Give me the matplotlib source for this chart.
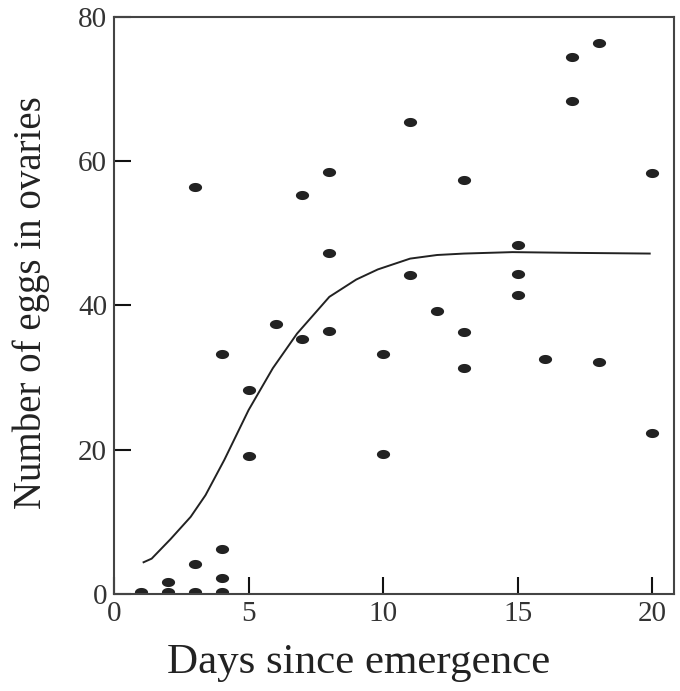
import numpy as np
import matplotlib.pyplot as plt
from matplotlib.path import Path

# observed egg counts (day, eggs)
days = [1, 2, 3, 4, 2, 3, 3, 4, 4, 4, 5, 5, 6, 7, 7, 8, 8, 8,
        10, 10, 11, 11, 12, 13, 13, 13, 15, 15, 15, 16, 17, 17, 18, 18, 20, 20]
eggs = [0.3, 0.3, 0.3, 0.3, 1.6, 4.2, 56.4, 2.2, 6.3, 33.3, 19.2, 28.3, 37.5, 35.4, 55.3, 36.4, 47.3, 58.5,
        19.4, 33.3, 44.2, 65.4, 39.2, 31.3, 36.3, 57.4, 41.5, 44.4, 48.4, 32.6, 68.3, 74.4, 32.2, 76.4, 22.3, 58.4]

# fitted curve
curve_x = [1.1, 1.4, 2.1, 2.85, 3.4, 4.1, 5.0, 5.9, 6.8, 8.0, 9.0, 9.8, 11.0, 12.0, 13.0, 14.8, 17.0, 19.9]
curve_y = [4.4, 4.9, 7.6, 10.7, 13.7, 18.6, 25.5, 31.3, 36.1, 41.2, 43.6, 45.0, 46.5, 47.0, 47.2, 47.4, 47.3, 47.2]

xticks = [0, 5, 10, 15, 20]
yticks = [0, 20, 40, 60, 80]

plt.rcParams['font.family'] = ['Liberation Serif', 'DejaVu Serif']

# flat oval marker like the printed dots
t = np.linspace(0, 2 * np.pi, 40)
oval = Path(np.column_stack([1.45 * np.cos(t), np.sin(t)]), closed=True)

fig = plt.figure(figsize=(6.8, 6.91), dpi=100)
ax = fig.add_axes([0.1676, 0.1404, 0.8235, 0.835])

ax.plot(curve_x, curve_y, color='#222222', lw=1.4)
ax.plot(days, eggs, ls='none', marker=oval, markersize=9.5, color='#222222', mec='none')

ax.set_xlim(0, 20.8)
ax.set_ylim(0, 80)
ax.set_xticks(xticks)
ax.set_yticks(yticks)
ax.tick_params(direction='in', length=12, width=1.5, color='#111111', labelsize=21, pad=5,
               labelcolor='#333333')
for s in ax.spines.values():
    s.set_linewidth(1.5)
    s.set_color('#444444')

ax.set_xlabel('Days since emergence', fontsize=31, color='#222222')
ax.set_ylabel('Number of eggs in ovaries', fontsize=28, color='#222222')
ax.xaxis.set_label_coords(0.4375, -0.085)
ax.yaxis.set_label_coords(-0.115, 0.505)

fig.savefig('out.png', dpi=100, facecolor='white')
